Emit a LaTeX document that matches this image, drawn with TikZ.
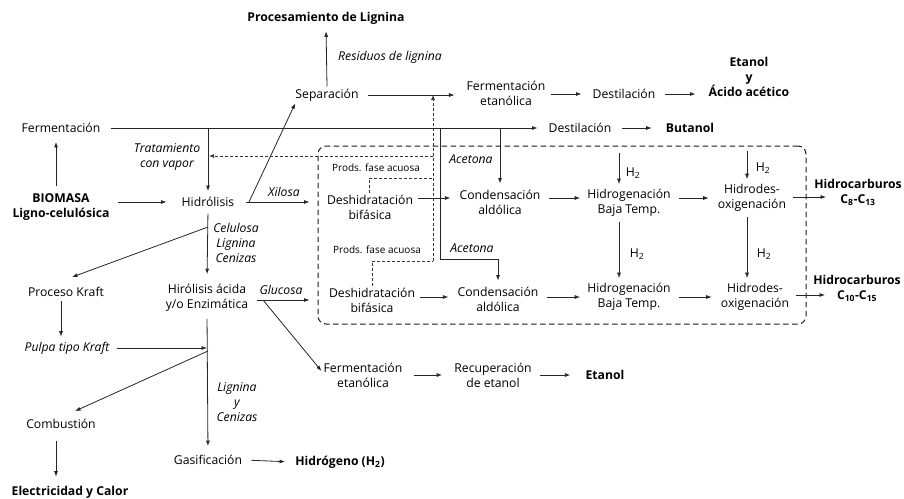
\documentclass[tikz,border=0pt]{standalone}
\usepackage{fontspec}
\setmainfont{Open Sans}
\usetikzlibrary{arrows.meta}
\begin{document}
\begin{tikzpicture}[x=1pt,y=-1pt,
  every node/.style={font=\fontsize{12.2}{15}\selectfont, align=center, inner sep=2pt},
  lbl/.style={font=\fontsize{12.2}{15}\selectfont\itshape},
  prod/.style={font=\fontsize{12.2}{15}\selectfont\bfseries},
  small/.style={font=\fontsize{10}{12}\selectfont},
  ln/.style={line width=0.8pt, draw=black!85},
  arr/.style={ln, -{Latex[length=5.5pt,width=4pt]}},
  sg/.style 2 args={shorten <=#1pt, shorten >=#2pt},
  dsh/.style={dash pattern=on 3pt off 2pt, line width=0.7pt, draw=black!80},
  bx/.style={draw=black!90, dash pattern=on 5.5pt off 3.5pt, line width=1pt, rounded corners=8pt,
    minimum width=488pt, minimum height=178pt, inner sep=0pt},
]
\useasboundingbox (0,0) rectangle (904,498);

% nodes
\node[prod] (procL) at (326,18) {Procesamiento de Lignina};
\node[lbl] (res) at (390,57) {Residuos de lignina};
\node (sep) at (327,95) {Separación};
\node (ferm1) at (506,93) {Fermentación\\etanólica};
\node (dest1) at (624,94) {Destilación};
\node[prod] (etac) at (749,77) {Etanol\\y\\Ácido acético};
\node (ferm0) at (61,128) {Fermentación};
\node (dest2) at (580,128) {Destilación};
\node[prod] (but) at (690,128) {Butanol};
\node[lbl] (trat) at (167,157) {Tratamiento\\con vapor};
\node[prod] (bio) at (61,207) {BIOMASA\\Ligno-celulósica};
\node (hid) at (208,202) {Hidrólisis};
\node[lbl] (xil) at (284,192) {Xilosa};
\node[lbl] (cel) at (236,243) {Celulosa\\Lignina\\Cenizas};
\node (kraft) at (66,292) {Proceso Kraft};
\node[lbl] (pulpa) at (67,348) {Pulpa tipo Kraft};
\node (hac) at (207,298) {Hirólisis ácida\\y/o Enzimática};
\node[lbl] (glu) at (281,290) {Glucosa};
\node[lbl] (lyc) at (237,402) {Lignina\\y\\Cenizas};
\node (comb) at (61,424) {Combustión};
\node[prod] (elec) at (70,492) {Electricidad y Calor};
\node (gas) at (208,460) {Gasificación};
\node[prod] (hidr) at (340,462) {Hidrógeno (H\textsubscript{2})};
\node (ferm2) at (363,375) {Fermentación\\etanólica};
\node (recu) at (493,375) {Recuperación\\de etanol};
\node[prod] (etan) at (605,375) {Etanol};

\node[bx] (box) at (562,235) {};
\node[small] (pfa1) at (376,168) {Prods. fase acuosa};
\node (desh1) at (370,207) {Deshidratación\\bifásica};
\node[lbl] (ace1) at (471,159) {Acetona};
\node (cond1) at (500,202) {Condensación\\aldólica};
\node (hg1) at (629,203) {Hidrogenación\\Baja Temp.};
\node (hdo1) at (752,198) {Hidrodes-\\oxigenación};
\node[prod] (hc1) at (858,192) {Hidrocarburos\\C\textsubscript{8}-C\textsubscript{13}};
\node[small] (pfa2) at (377,250) {Prods. fase acuosa};
\node (desh2) at (372,300) {Deshidratación\\bifásica};
\node[lbl] (ace2) at (472,248) {Acetona};
\node (cond2) at (498,299) {Condensación\\aldólica};
\node (hg2) at (629,297) {Hidrogenación\\Baja Temp.};
\node (hdo2) at (755,297) {Hidrodes-\\oxigenación};
\node[prod] (hc2) at (857,288) {Hidrocarburos\\C\textsubscript{10}-C\textsubscript{15}};
\node (h2a) at (633,173) {H\textsubscript{2}};
\node (h2b) at (763,168) {H\textsubscript{2}};
\node (h2c) at (637,254) {H\textsubscript{2}};
\node (h2d) at (764,254) {H\textsubscript{2}};

% helper coordinates
\coordinate (r1) at (0,198);
\coordinate (r1b) at (0,197);
\coordinate (r2) at (0,297);
\coordinate (r2b) at (0,295);
\coordinate (acx) at (440,259);
\coordinate (dv) at (433,261);
\coordinate (dtrat) at (433,156);
\coordinate (dp1) at (433,178);
\coordinate (kb) at (208,227);
\coordinate (cb) at (208,351);
\coordinate (gb) at (263,300);
\coordinate (xb) at (249,202);
\coordinate (hv1) at (619,153);
\coordinate (hv2) at (747,151);
\coordinate (lx) at (56,0);
\coordinate (kx) at (61,0);

% top row
\draw[arr,sg={0}{5}] (sep.north) -- (procL.south);
\draw[arr,sg={7}{10}] (sep.east) -- (ferm1.west |- sep.east);
\draw[arr,sg={3}{9}] (ferm1.east |- dest1.east) -- (dest1.west);
\draw[arr,sg={8}{11}] (dest1.east) -- (etac.west |- dest1.east);
\draw[arr,sg={8}{9}] (ferm0.east) -- (dest2.west);
\draw[arr,sg={9}{12}] (dest2.east) -- (but.west);
\draw[arr,sg={0}{4}] (hid.north |- ferm0.east) -- (hid.north);
\draw[arr,sg={0}{0}] (cond1.north |- ferm0.east) -- ([yshift=4pt]cond1.north);
\draw[arr] (acx |- ferm0.east) -- (acx) -| ([yshift=4pt]cond2.north);

% left column
\draw[arr,sg={5}{7}] (lx |- bio.north) -- (lx |- ferm0.south);
\draw[arr,sg={6}{13}] (bio.east |- hid.east) -- (hid.west);
\draw[arr,sg={10}{8}] (hid.east) -- (box.west |- hid.east);
\draw[arr] (xb) -- ([xshift=2pt]sep.south west);
\draw[arr,sg={5}{8}] (hid.south) -- (hac.north);
\draw[arr] (kb) -- ([xshift=6pt,yshift=8pt]kraft.north);
\draw[arr,sg={2}{3}] (kx |- kraft.south) -- (kx |- pulpa.north);
\draw[arr,sg={5}{0}] (pulpa.east) -- (hac.south |- pulpa.east);
\draw[arr,sg={7}{8}] (hac.east |- gb) -- (box.west |- gb);
\draw[arr] (gb) -- ([yshift=4pt]ferm2.west);
\draw[arr,sg={5}{7}] (hac.south) -- (gas.north);
\draw[arr] (cb) -- ([xshift=14pt,yshift=6pt]comb.north);
\draw[arr,sg={10}{7}] (lx |- comb.south) -- (lx |- elec.north);
\draw[arr,sg={7}{8}] (gas.east) -- (hidr.west);
\draw[arr,sg={9}{10}] (ferm2.east) -- (recu.west);
\draw[arr,sg={6}{13}] (recu.east) -- (etan.west);

% dashed
\draw[dsh,-{Latex[length=5pt,width=4pt]}] (dv) -- (dv |- sep.east);
\draw[dsh,-{Latex[length=5pt,width=4pt]}] (dtrat) -- ([xshift=1pt]hid.north |- dtrat);
\draw[dsh] ([xshift=-1pt]desh1.north) |- (dp1);
\draw[dsh] (desh2.north) |- (dv);

% box row 1
\draw[arr,sg={3}{7}] (desh1.east |- r1) -- (cond1.west |- r1);
\draw[arr,sg={6}{5}] (cond1.east |- r1) -- (hg1.west |- r1);
\draw[arr,sg={6}{7}] (hg1.east |- r1) -- (hdo1.west |- r1);
\draw[arr,sg={5}{-14}] (hdo1.east |- r1b) -- (hc1.west |- r1b);
\draw[arr,sg={0}{3}] (hv1) -- (hv1 |- hg1.north);
\draw[arr,sg={0}{3}] (hv2) -- (hv2 |- hdo1.north);
% box row 2
\draw[arr,sg={3}{7}] (desh2.east |- r2) -- (cond2.west |- r2);
\draw[arr,sg={6}{5}] (cond2.east |- r2) -- (hg2.west |- r2);
\draw[arr,sg={6}{7}] (hg2.east |- r2) -- (hdo2.west |- r2);
\draw[arr,sg={5}{-14}] (hdo2.east |- r2b) -- (hc2.west |- r2b);
\draw[arr,sg={3}{3}] (hv1 |- hg1.south) -- (hv1 |- hg2.north);
\draw[arr,sg={3}{3}] (hv2 |- hdo1.south) -- (hv2 |- hdo2.north);
\end{tikzpicture}
\end{document}
